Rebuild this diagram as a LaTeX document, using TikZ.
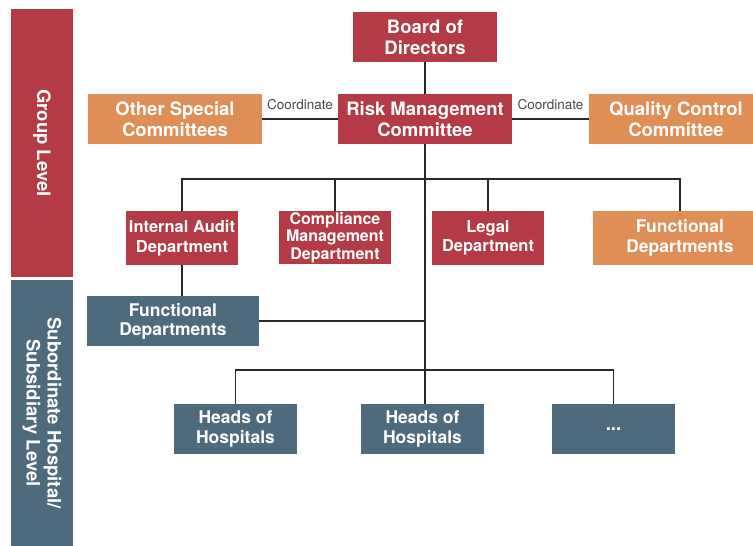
\documentclass[tikz,border=0pt]{standalone}
\usepackage{fontspec}
\setmainfont{TeX Gyre Heros}
\definecolor{boxred}{RGB}{180,58,69}
\definecolor{boxorange}{RGB}{223,142,85}
\definecolor{boxblue}{RGB}{78,107,126}
\definecolor{linedark}{RGB}{40,40,40}

\begin{document}
\begin{tikzpicture}[x=1pt,y=-1pt,
  box/.style={rectangle,text=white,align=center,font=\bfseries\fontsize{18.5}{21}\selectfont,minimum height=50pt},
  smallbox/.style={box,font=\bfseries\fontsize{16.5}{19.5}\selectfont,minimum height=54pt,minimum width=112pt},
  redbox/.style={fill=boxred},
  orangebox/.style={fill=boxorange},
  bluebox/.style={fill=boxblue},
  levelbar/.style={rectangle,rotate=-90,text=white,align=center,font=\bfseries\fontsize{18.5}{21}\selectfont,minimum height=62pt},
  conn/.style={draw=linedark,line width=1.7pt},
  coordlabel/.style={font=\fontsize{13.5}{15}\selectfont,text=linedark!85}]
\tikzstyle{every node}+=[inner sep=0pt]
\useasboundingbox (0,0) rectangle (753,546);
\node [levelbar,fill=boxred,minimum width=268pt] (grouplevel) at (42,143) {Group Level};
\node [levelbar,fill=boxblue,minimum width=266pt] (sublevel) at (42,413) {Subordinate Hospital/\\Subsidiary Level};
\node [box,redbox,minimum width=144pt] (board) at (425,37) {Board of\\Directors};
\node [box,redbox,minimum width=174pt] (risk) at (425,119) {Risk Management\\Committee};
\node [box,orangebox,minimum width=174pt] (other) at (175,119) {Other Special\\Committees};
\node [box,orangebox,minimum width=174pt] (quality) at (676,119) {Quality Control\\Committee};
\node [smallbox,redbox] (audit) at (182,238) {Internal Audit\\Department};
\node [smallbox,redbox,minimum height=53pt,font=\bfseries\fontsize{16}{17.5}\selectfont] (compliance) at (335,237.5) {Compliance\\Management\\Department};
\node [smallbox,redbox] (legal) at (488,238) {Legal\\Department};
\node [smallbox,orangebox,minimum width=174pt,font=\bfseries\fontsize{17.5}{20}\selectfont] (groupfunc) at (680,238) {Functional\\Departments};
\node [box,bluebox,minimum width=172pt,font=\bfseries\fontsize{17.5}{19}\selectfont] (subfunc) at (173,321) {Functional\\Departments};
\node [box,bluebox,minimum width=123pt,font=\bfseries\fontsize{17.5}{19.5}\selectfont] (headsA) at (235.5,429) {Heads of\\Hospitals};
\node [box,bluebox,minimum width=123pt,font=\bfseries\fontsize{17.5}{19.5}\selectfont] (headsB) at (422.5,429) {Heads of\\Hospitals};
\node [box,bluebox,minimum width=123pt] (moreheads) at (613.5,429) {...};
\coordinate (busA) at (425,179);
\coordinate (busB) at (425,370);
\draw [conn] (board) -- (risk);
\draw [conn] (risk.south) -- (risk.south |- headsB.north);
\draw [conn,line width=1.4pt] (other) -- node [coordlabel,above=9pt] {Coordinate} (risk);
\draw [conn,line width=1.4pt] (risk) -- node [coordlabel,above=9pt] {Coordinate} (quality.west);
\draw [conn] (audit.north) |- (busA) -| (groupfunc.north);
\draw [conn] (compliance.north) -- (compliance.north |- busA);
\draw [conn] (legal.north) -- (legal.north |- busA);
\draw [conn] (audit.south) -- (audit.south |- subfunc.north);
\draw [conn] (subfunc.east) -- (subfunc.east -| busA);
\draw [conn] (headsA.north) |- (busB) -| (moreheads.north);
\end{tikzpicture}
\end{document}
